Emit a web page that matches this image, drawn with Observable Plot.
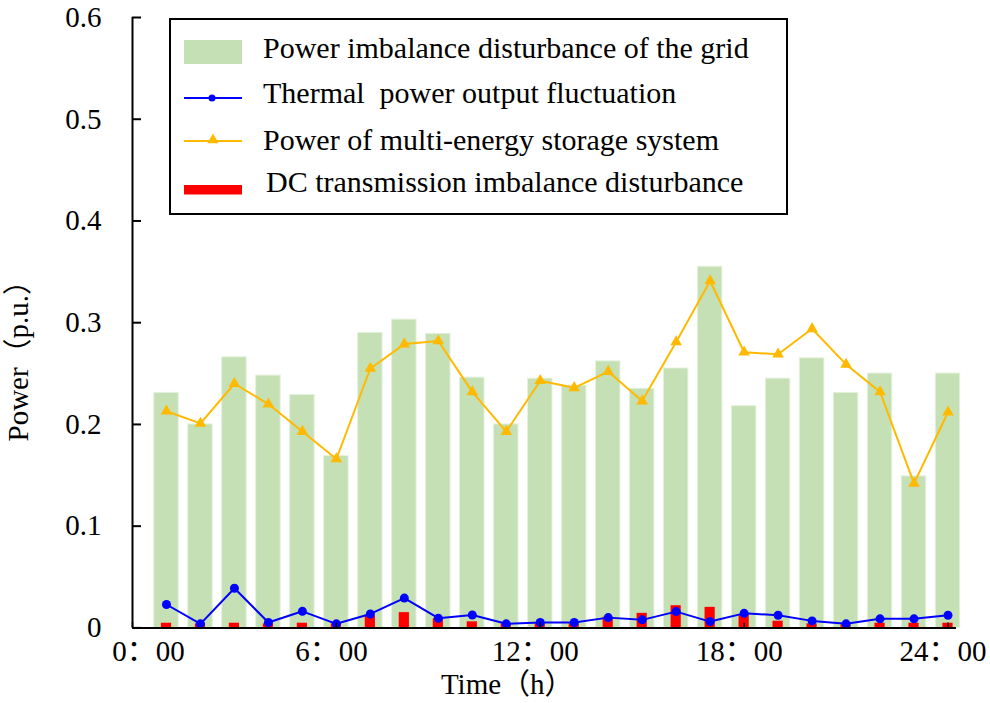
<!DOCTYPE html>
<html>
<head>
<meta charset="utf-8">
<script src="https://cdn.jsdelivr.net/npm/d3@7"></script>
<script src="https://cdn.jsdelivr.net/npm/@observablehq/plot@0.6"></script>
<style>
  body { margin: 0; background: #fff; }
  #chart { position: relative; width: 990px; height: 703px; font-family: "Liberation Serif", "Noto Sans CJK SC", serif; }
  #chart svg text { font-family: "Liberation Serif", "Noto Sans CJK SC", serif; font-variant: normal; }
  #legend { position: absolute; left: 169px; top: 18px; }
</style>
</head>
<body>
<div id="chart"></div>
<script>
const hours = [1, 2, 3, 4, 5, 6, 7, 8, 9, 10, 11, 12, 13, 14, 15, 16, 17, 18, 19, 20, 21, 22, 23, 24];

// p.u.
const gridImbalance = [0.231, 0.200, 0.266, 0.248, 0.229, 0.169, 0.290, 0.303, 0.289, 0.246, 0.200, 0.245,
    0.238, 0.262, 0.235, 0.255, 0.355, 0.218, 0.245, 0.265, 0.231, 0.250, 0.149, 0.250];
const thermalFluct = [0.023, 0.004, 0.039, 0.0053, 0.0163, 0.004, 0.0137, 0.0293, 0.0095, 0.0127, 0.004, 0.0053,
    0.0053, 0.0101, 0.0079, 0.016, 0.0062, 0.0143, 0.0124, 0.0069, 0.004, 0.0089, 0.0089, 0.0124];
const storagePower = [0.213, 0.201, 0.240, 0.220, 0.193, 0.166, 0.255, 0.279, 0.282, 0.232, 0.193, 0.243,
    0.236, 0.252, 0.223, 0.281, 0.341, 0.271, 0.269, 0.294, 0.259, 0.232, 0.142, 0.212];
const dcImbalance = [0.0046, 0.004, 0.0046, 0.004, 0.0046, 0.004, 0.012, 0.015, 0.009, 0.006, 0.004, 0.004,
    0.004, 0.0105, 0.0143, 0.0218, 0.0202, 0.013, 0.0066, 0.004, 0.003, 0.0046, 0.0046, 0.0046];

const seriesNames = [
    "Power imbalance disturbance of the grid",
    "Thermal\u00a0 power output fluctuation",
    "Power of multi-energy storage system",
    "DC transmission imbalance disturbance",
];
const seriesColors = ["#c5e0b4", "#0000ff", "#ffb900", "#ff0000"];

const xTicks = [0, 6, 12, 18, 24];
const yTicks = [0, 0.1, 0.2, 0.3, 0.4, 0.5, 0.6];

const rows = hours.map((h, i) => ({
    hour: h,
    grid: gridImbalance[i],
    thermal: thermalFluct[i],
    storage: storagePower[i],
    dc: dcImbalance[i],
}));

const fontFamily = '"Liberation Serif", "Noto Sans CJK SC", serif';
const frameW = 990 - 132 - 42.5;
const frameH = 703 - 17 - 75.6;

const chart = Plot.plot({
    width: 990,
    height: 703,
    marginLeft: 132,
    marginRight: 42.5,
    marginTop: 17,
    marginBottom: 75.6,
    style: { fontFamily: fontFamily, fontSize: "29px", background: "white", color: "black", overflow: "visible" },
    x: { domain: [0, 24], axis: null },
    y: { domain: [0, 0.6], axis: null },
    marks: [
        Plot.rect(rows, {
            x1: (d) => d.hour - 0.36,
            x2: (d) => d.hour + 0.36,
            y1: 0,
            y2: "grid",
            fill: seriesColors[0],
            stroke: "#e4f1dc",
            strokeWidth: 1,
        }),
        Plot.rect(rows, {
            x1: (d) => d.hour - 0.15,
            x2: (d) => d.hour + 0.15,
            y1: 0,
            y2: "dc",
            fill: seriesColors[3],
        }),
        Plot.line(rows, { x: "hour", y: "thermal", stroke: seriesColors[1], strokeWidth: 2 }),
        Plot.dot(rows, { x: "hour", y: "thermal", fill: seriesColors[1], r: 4.5 }),
        Plot.line(rows, { x: "hour", y: "storage", stroke: seriesColors[2], strokeWidth: 2 }),
        Plot.dot(rows, { x: "hour", y: "storage", fill: seriesColors[2], symbol: "triangle", r: 4.3 }),

        // axes lines and inward ticks
        Plot.ruleY([0], { x1: 0, x2: 24.25, strokeWidth: 2 }),
        Plot.ruleX([0], { y1: 0, y2: 0.6, strokeWidth: 2 }),
        Plot.ruleY(yTicks, { insetRight: frameW - 9, strokeWidth: 2 }),
        Plot.ruleX(xTicks, { insetTop: frameH - 5, strokeWidth: 1.5 }),

        Plot.axisY(yTicks, {
            tickSize: 0,
            tickPadding: 31,
            label: null,
            fontSize: 29,
            fontFamily: fontFamily,
            fontVariant: "normal",
            tickFormat: (d) => (d === 0 ? "0" : d.toFixed(1)),
        }),
        Plot.axisX([0], {
            tickSize: 0, tickPadding: 13, dx: 16, label: null, fontSize: 29,
            fontFamily: fontFamily, fontVariant: "normal", tickFormat: (d) => d + "：00",
        }),
        Plot.axisX(xTicks.slice(1), {
            tickSize: 0, tickPadding: 13, dx: -5, label: null, fontSize: 29,
            fontFamily: fontFamily, fontVariant: "normal", tickFormat: (d) => d + "：00",
        }),

        Plot.text(["Power（p.u.）"], {
            text: (d) => d, frameAnchor: "left", textAnchor: "middle", lineAnchor: "middle",
            rotate: -90, dx: -114, dy: 31, fontSize: 29,
        }),
        Plot.text(["Time（h）"], { text: (d) => d, frameAnchor: "bottom", dx: -33, dy: 66, fontSize: 29 }),
    ],
});

document.querySelector("#chart").append(chart);

// legend box drawn on top, like the original
const legend = d3.select("#chart").append("svg")
    .attr("id", "legend")
    .attr("width", 620)
    .attr("height", 198)
    .style("font-family", fontFamily)
    .style("font-size", "30px");

legend.append("rect")
    .attr("x", 1).attr("y", 1).attr("width", 617).attr("height", 195)
    .attr("fill", "white").attr("stroke", "black").attr("stroke-width", 2);

const rowY = [34, 80, 123, 171];
const textBase = [40, 85, 132, 174];
const textX = [94, 94, 94, 97];

legend.append("rect").attr("x", 15).attr("y", 22).attr("width", 58).attr("height", 24).attr("fill", seriesColors[0]);
legend.append("line").attr("x1", 15).attr("x2", 73).attr("y1", rowY[1]).attr("y2", rowY[1])
    .attr("stroke", seriesColors[1]).attr("stroke-width", 2);
legend.append("circle").attr("cx", 43).attr("cy", rowY[1]).attr("r", 3.5).attr("fill", seriesColors[1]);
legend.append("line").attr("x1", 15).attr("x2", 73).attr("y1", rowY[2]).attr("y2", rowY[2])
    .attr("stroke", seriesColors[2]).attr("stroke-width", 2);
legend.append("path").attr("d", d3.symbol(d3.symbolTriangle, 55)())
    .attr("transform", `translate(44,${rowY[2] - 1})`).attr("fill", seriesColors[2]);
legend.append("rect").attr("x", 15).attr("y", 167).attr("width", 58).attr("height", 9.5).attr("fill", seriesColors[3]);

seriesNames.forEach((name, i) => {
    legend.append("text").attr("x", textX[i]).attr("y", textBase[i]).attr("fill", "black").text(name);
});
</script>
</body>
</html>
